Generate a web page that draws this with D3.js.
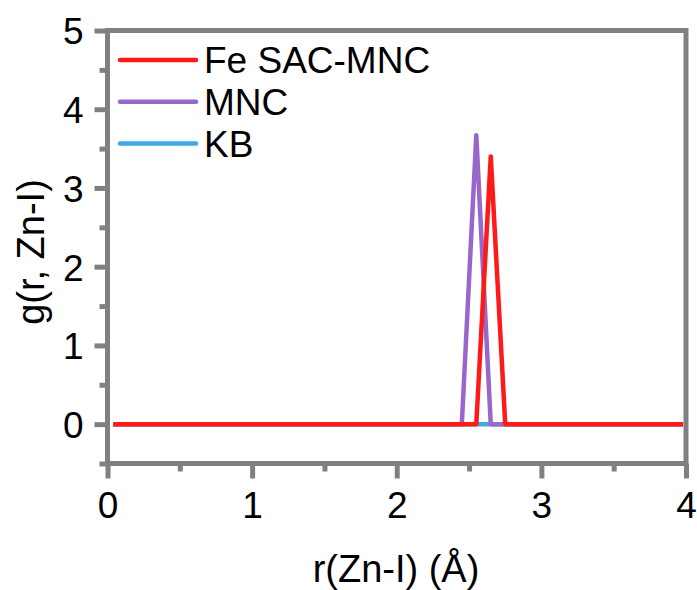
<!DOCTYPE html>
<html>
<head>
<meta charset="utf-8">
<script src="https://cdn.jsdelivr.net/npm/d3@7/dist/d3.min.js"></script>
<style>
  html, body { margin: 0; padding: 0; background: #fff; }
  svg { display: block; }
  text { font-family: "Liberation Sans", Arial, sans-serif; fill: #000; }
</style>
</head>
<body>
<svg id="chart" width="697" height="590"></svg>
<script>
// Radial distribution function g(r) for the Zn–I pair
const seriesNames = ["Fe SAC-MNC", "MNC", "KB"];
const seriesColors = ["#ff1a1a", "#9966cc", "#3fa9e6"];

// r (Å) and g(r) for each sample
const rFe  = [0.04, 2.55, 2.65, 2.75, 3.98];
const gFe  = [0,    0,    3.40, 0,    0];
const rMNC = [0.04, 2.45, 2.55, 2.65, 3.98];
const gMNC = [0,    0,    3.67, 0,    0];
const rKB  = [0.04, 3.98];
const gKB  = [0,    0];

const xTicks = [0, 1, 2, 3, 4];
const yTicks = [0, 1, 2, 3, 4, 5];
const xMinor = [0.5, 1.5, 2.5, 3.5];
const yMinor = [-0.5, 0.5, 1.5, 2.5, 3.5, 4.5];

const svg = d3.select("#chart");
const plotL = 107.5, plotR = 686, plotT = 30.5, plotB = 463.5;
const axisColor = "#808080";
const axisW = 5;

const x = d3.scaleLinear().domain([0, 4]).range([plotL, plotR]);
const y = d3.scaleLinear().domain([-0.5, 5]).range([plotB, plotT]);

// Curves: KB first, then MNC, Fe SAC-MNC on top
const series = [
  { name: "KB", r: rKB, g: gKB, color: seriesColors[2] },
  { name: "MNC", r: rMNC, g: gMNC, color: seriesColors[1] },
  { name: "Fe SAC-MNC", r: rFe, g: gFe, color: seriesColors[0] }
];
const line = d3.line().x(d => x(d[0])).y(d => y(d[1]));
series.forEach(s => {
  svg.append("path")
    .attr("d", line(s.r.map((v, i) => [v, s.g[i]])))
    .attr("fill", "none")
    .attr("stroke", s.color)
    .attr("stroke-width", 4.5)
    .attr("stroke-linejoin", "round");
});

// Bottom axis: major and minor ticks
svg.append("g").attr("transform", `translate(0,${plotB})`)
  .call(d3.axisBottom(x).tickValues(xTicks).tickSize(15).tickPadding(13).tickFormat(d3.format("d")));
svg.append("g").attr("transform", `translate(0,${plotB})`)
  .call(d3.axisBottom(x).tickValues(xMinor).tickSize(8).tickFormat(""));
// Left axis: major and minor ticks
const yAxis = svg.append("g").attr("transform", `translate(${plotL},0)`)
  .call(d3.axisLeft(y).tickValues(yTicks).tickSize(13).tickPadding(11).tickFormat(d3.format("d")));
svg.append("g").attr("transform", `translate(${plotL},0)`)
  .call(d3.axisLeft(y).tickValues(yMinor).tickSize(8).tickFormat(""));

svg.selectAll(".domain").remove();
svg.selectAll(".tick line")
  .style("stroke", axisColor)
  .style("stroke-width", axisW + "px");
svg.selectAll(".tick text")
  .style("font-family", '"Liberation Sans", Arial, sans-serif')
  .style("font-size", "37px")
  .attr("fill", "#000");
yAxis.selectAll(".tick text").attr("dy", "0.36em");

// Frame around the plot area
svg.append("rect")
  .attr("x", plotL).attr("y", plotT)
  .attr("width", plotR - plotL).attr("height", plotB - plotT)
  .attr("fill", "none")
  .attr("stroke", axisColor)
  .attr("stroke-width", axisW)
  .attr("stroke-linejoin", "miter");

// Axis titles
svg.append("text")
  .attr("x", 396)
  .attr("y", 582)
  .attr("text-anchor", "middle")
  .style("font-size", "38px")
  .text("r(Zn-I) (Å)");
svg.append("text")
  .attr("transform", "translate(44,252) rotate(-90)")
  .attr("text-anchor", "middle")
  .style("font-size", "38px")
  .text("g(r, Zn-I)");

// Legend
const legend = svg.append("g");
seriesNames.forEach((name, i) => {
  const ly = 60 + i * 41.7;
  legend.append("line")
    .attr("x1", 120).attr("x2", 196)
    .attr("y1", ly).attr("y2", ly)
    .attr("stroke", seriesColors[i])
    .attr("stroke-width", 4.5)
    .attr("stroke-linecap", "round");
  legend.append("text")
    .attr("x", 204).attr("y", ly + 13.3)
    .style("font-size", "37px")
    .text(name);
});
</script>
</body>
</html>
